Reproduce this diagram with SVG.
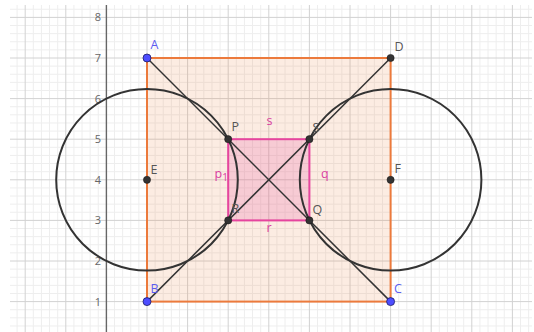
<svg xmlns="http://www.w3.org/2000/svg" width="534" height="332" viewBox="0 0 534 332">
<style>
.minor{stroke:#eeeeee;stroke-width:1;fill:none}
.major{stroke:#d2d2d2;stroke-width:1;fill:none}
.axis{stroke:#666;stroke-width:1.4;fill:none}
.tick{font-family:"Open Sans","DejaVu Sans",sans-serif;font-size:11px;fill:#666;text-anchor:end}
.lbl{font-family:"Open Sans","DejaVu Sans",sans-serif;font-size:12.5px;fill:#555}
.lblb{font-family:"Open Sans","DejaVu Sans",sans-serif;font-size:12.5px;fill:#5c5cf0}
.lblm{font-family:"Open Sans","DejaVu Sans",sans-serif;font-size:12.5px;fill:#d83ea0}
.seg{stroke:#333;stroke-width:1.5;fill:none}
.circ{stroke:#333;stroke-width:2;fill:none}
.free{fill:#4d4dff;stroke:#1a1a66;stroke-width:0.8}
.dep{fill:#333;stroke:#111;stroke-width:0.5}
</style>
<rect width="534" height="332" fill="#fff"/>
<g id="grid">
<path class="minor" d="M17.08 5V332M33.32 5V332M41.44 5V332M49.56 5V332M57.68 5V332M73.92 5V332M82.04 5V332M90.16 5V332M98.28 5V332M114.52 5V332M122.64 5V332M130.76 5V332M138.88 5V332M155.12 5V332M163.24 5V332M171.36 5V332M179.48 5V332M195.72 5V332M203.84 5V332M211.96 5V332M220.08 5V332M236.32 5V332M244.44 5V332M252.56 5V332M260.68 5V332M276.92 5V332M285.04 5V332M293.16 5V332M301.28 5V332M317.52 5V332M325.64 5V332M333.76 5V332M341.88 5V332M358.12 5V332M366.24 5V332M374.36 5V332M382.48 5V332M398.72 5V332M406.84 5V332M414.96 5V332M423.08 5V332M439.32 5V332M447.44 5V332M455.56 5V332M463.68 5V332M479.92 5V332M488.04 5V332M496.16 5V332M504.28 5V332M520.52 5V332M528.64 5V332
M10 325.96H532M10 317.84H532M10 309.72H532M10 293.48H532M10 285.36H532M10 277.24H532M10 269.12H532M10 252.88H532M10 244.76H532M10 236.64H532M10 228.52H532M10 212.28H532M10 204.16H532M10 196.04H532M10 187.92H532M10 171.68H532M10 163.56H532M10 155.44H532M10 147.32H532M10 131.08H532M10 122.96H532M10 114.84H532M10 106.72H532M10 90.48H532M10 82.36H532M10 74.24H532M10 66.12H532M10 49.88H532M10 41.76H532M10 33.64H532M10 25.52H532M10 9.28H532"/>
<path class="major" d="M25.2 5V332M65.8 5V332M147 5V332M187.6 5V332M228.2 5V332M268.8 5V332M309.4 5V332M350 5V332M390.6 5V332M431.2 5V332M471.8 5V332M512.4 5V332
M10 301.6H532M10 261H532M10 220.4H532M10 179.8H532M10 139.2H532M10 98.6H532M10 58H532M10 17.4H532"/>
<path class="axis" d="M106.4 5V332"/>
<g>
<text class="tick" x="101" y="305.6">1</text>
<text class="tick" x="101" y="265">2</text>
<text class="tick" x="101" y="224.4">3</text>
<text class="tick" x="101" y="183.8">4</text>
<text class="tick" x="101" y="143.2">5</text>
<text class="tick" x="101" y="102.6">6</text>
<text class="tick" x="101" y="62">7</text>
<text class="tick" x="101" y="21.4">8</text>
</g>
</g>
<g id="rectangle-ABCD">
<rect x="147" y="58" width="243.6" height="243.6" fill="#e8803a" fill-opacity="0.15" stroke="#ec7a3c" stroke-width="2"/>
</g>
<g id="square-PSQR">
<rect x="228.2" y="139.2" width="81.2" height="81.2" fill="#e64ca0" fill-opacity="0.2" stroke="#e6459e" stroke-width="2"/>
<text class="lblm" x="266.5" y="125">s</text>
<text class="lblm" x="321" y="177.5">q</text>
<text class="lblm" x="266.5" y="232">r</text>
<text class="lblm" x="214.5" y="177.5">p<tspan font-size="10" dy="3.5">1</tspan></text>
</g>
<g id="connectors">
<line class="seg" x1="147" y1="58" x2="390.6" y2="301.6"/>
<line class="seg" x1="390.6" y1="58" x2="147" y2="301.6"/>
</g>
<g id="circle-E">
<circle class="circ" cx="147" cy="179.8" r="90.8"/>
</g>
<g id="circle-F">
<circle class="circ" cx="390.6" cy="179.8" r="90.8"/>
</g>
<g id="point-A"><circle class="free" cx="147" cy="58" r="4"/><text class="lblb" x="150.5" y="49">A</text></g>
<g id="point-B"><circle class="free" cx="147" cy="301.6" r="4"/><text class="lblb" x="150.5" y="293">B</text></g>
<g id="point-C"><circle class="free" cx="390.6" cy="301.6" r="4"/><text class="lblb" x="394" y="293">C</text></g>
<g id="point-D"><circle class="dep" cx="390.6" cy="58" r="3.6"/><text class="lbl" x="394.5" y="50.5">D</text></g>
<g id="point-E"><circle class="dep" cx="147" cy="179.8" r="3.6"/><text class="lbl" x="150.5" y="173.5">E</text></g>
<g id="point-F"><circle class="dep" cx="390.6" cy="179.8" r="3.6"/><text class="lbl" x="394.5" y="172.5">F</text></g>
<g id="point-P"><circle class="dep" cx="228.2" cy="139.2" r="3.6"/><text class="lbl" x="231.5" y="131">P</text></g>
<g id="point-S"><circle class="dep" cx="309.4" cy="139.2" r="3.6"/><text class="lbl" x="312.5" y="131.5">S</text></g>
<g id="point-R"><circle class="dep" cx="228.2" cy="220.4" r="3.6"/><text class="lbl" x="231.5" y="213">R</text></g>
<g id="point-Q"><circle class="dep" cx="309.4" cy="220.4" r="3.6"/><text class="lbl" x="312.5" y="213.5">Q</text></g>
</svg>
